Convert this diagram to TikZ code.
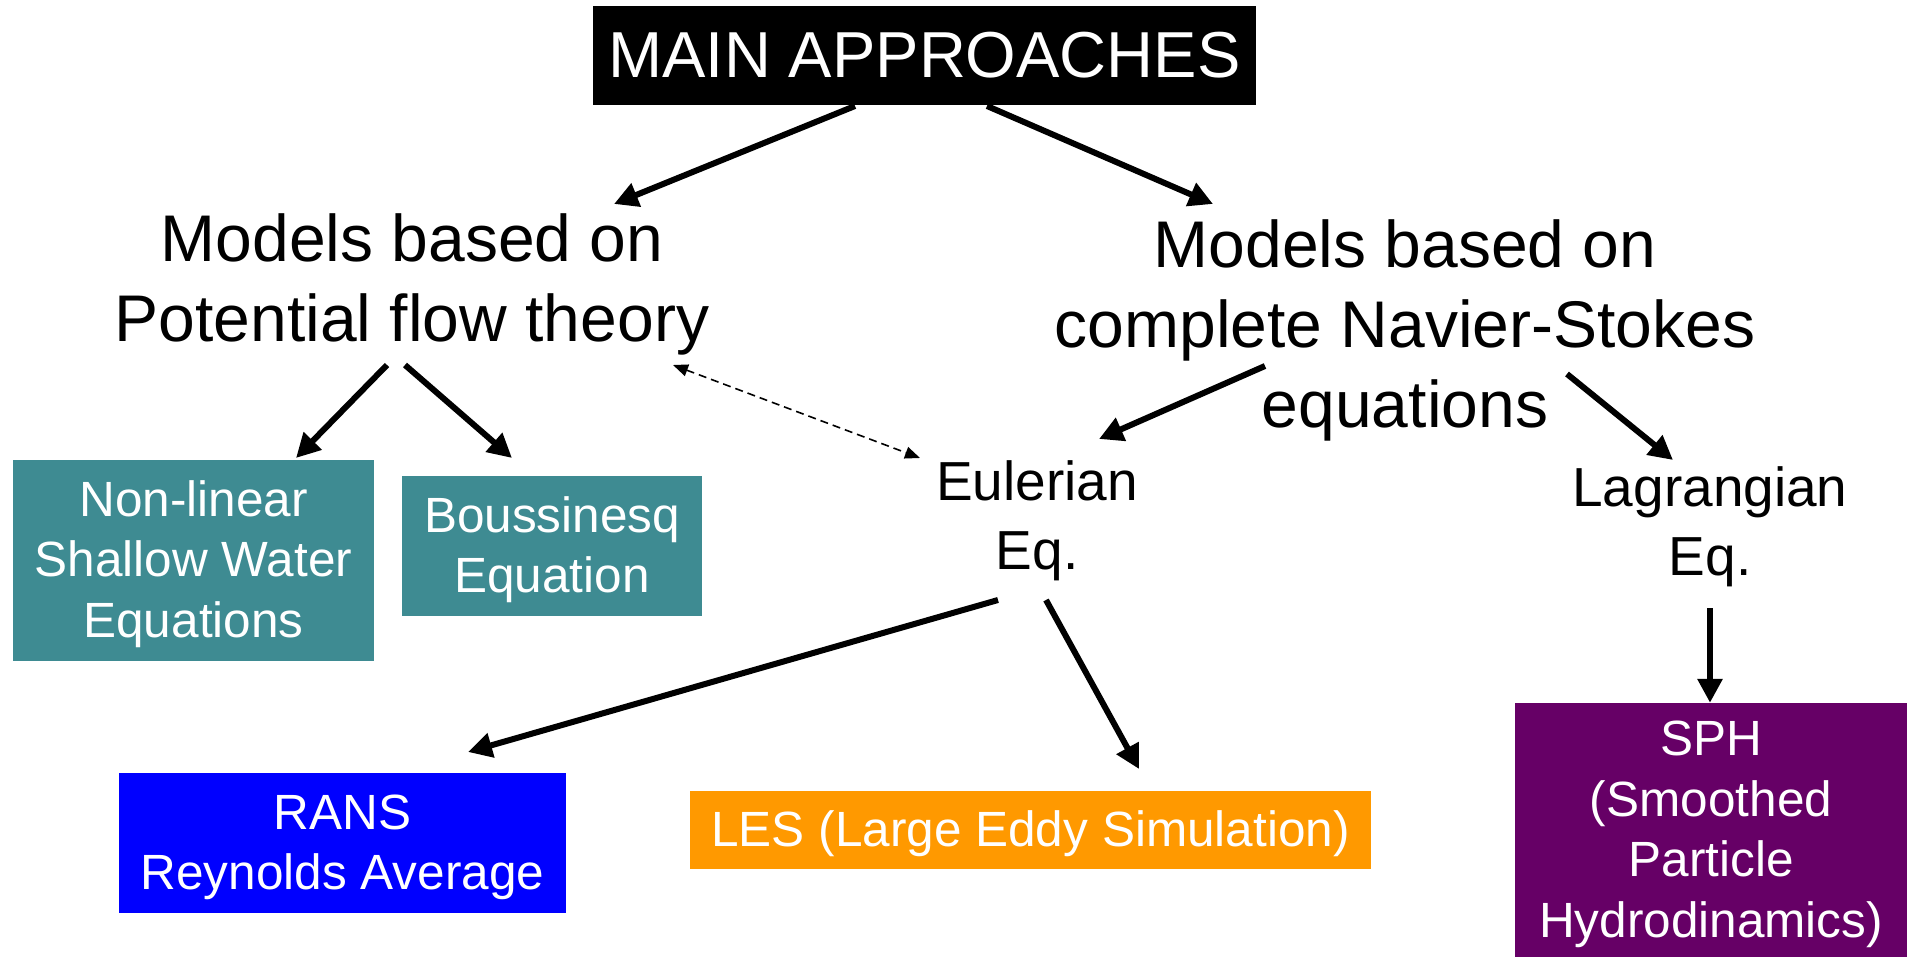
\documentclass[tikz,border=0pt]{standalone}
\usepackage{fontspec}
\setmainfont{Liberation Sans}
\usetikzlibrary{arrows.meta,calc}
\definecolor{tealbox}{HTML}{3E8B92}
\definecolor{bluebox}{HTML}{0000FF}
\definecolor{orangebox}{HTML}{FF9900}
\definecolor{purplebox}{HTML}{660066}
\newcommand\myTopGap{\rule{0pt}{43pt}}
\begin{document}
\begin{tikzpicture}[x=1pt,y=-1pt,
  arr/.style={line width=6pt,-{Triangle[length=24pt,width=24pt]}},
  darr/.style={line width=1.6pt,dash pattern=on 8pt off 5pt,{Triangle[length=15pt,width=12pt]}-{Triangle[length=15pt,width=12pt]}},
  headtext/.style={font=\fontsize{66}{80}\selectfont,align=center,inner sep=0pt},
  subtext/.style={font=\fontsize{55}{69}\selectfont,align=center,inner sep=0pt},
  colbox/.style={fill=#1,text=white,font=\fontsize{49.5}{60.5}\selectfont,align=center,inner sep=0pt}
]
\useasboundingbox (0,0) rectangle (1908,957);
\fill[white] (0,0) rectangle (1908,957);

\node[fill=black,text=white,font=\fontsize{65}{78}\selectfont,inner sep=0pt,
      minimum width=663pt,minimum height=99pt] (main) at (924.5,55.5) {MAIN APPROACHES};

\node[headtext] (pot) at (412,284) {Models based on\\Potential flow theory};
\node[headtext] (ns) at (1405,330) {Models based on\\complete Navier-Stokes\\equations};

\node[subtext] (eul) at (1037,521) {Eulerian\\Eq.};
\node[subtext] (lag) at (1710,527) {Lagrangian\\Eq.};

\node[colbox=tealbox,minimum width=361pt,minimum height=201pt] (nlsw) at (193.5,560.5) {\myTopGap Non-linear\\Shallow Water\\Equations};
\node[colbox=tealbox,minimum width=300pt,minimum height=140pt] (bous) at (552,546) {\myTopGap Boussinesq\\Equation};
\node[colbox=bluebox,minimum width=447pt,minimum height=140pt] (rans) at (342.5,843) {\myTopGap RANS\\Reynolds Average};
\node[colbox=orangebox,minimum width=681pt,minimum height=78pt] (les) at (1030.5,830) {\myTopGap LES (Large Eddy Simulation)};
\node[colbox=purplebox,minimum width=392pt,minimum height=254pt] (sph) at (1711,830) {\myTopGap SPH\\(Smoothed\\Particle\\Hydrodinamics)};

\draw[arr] ($(main.center)+(-69.5,50.5)$) -- ($(pot.center)+(202,-80)$);
\draw[arr] ($(main.center)+(62.5,50.5)$) -- ($(ns.center)+(-192,-126)$);
\draw[arr] ($(pot.center)+(-25,81)$) -- ($(nlsw.center)+(102.5,-102.5)$);
\draw[arr] ($(pot.center)+(-7,81)$) -- ($(bous.center)+(-40,-88)$);
\draw[darr] ($(pot.center)+(261,81)$) -- ($(eul.center)+(-117,-63)$);
\draw[arr] ($(ns.center)+(-140,36)$) -- ($(eul.center)+(62,-82)$);
\draw[arr] ($(ns.center)+(162,44)$) -- ($(lag.center)+(-37,-67)$);
\draw[arr] ($(eul.center)+(-39,79)$) -- ($(rans.center)+(125.5,-91)$);
\draw[arr] ($(eul.center)+(9,79)$) -- ($(les.center)+(108.5,-61)$);
\draw[arr] ($(lag.center)+(0,81)$) -- (lag.center |- sph.north);
\end{tikzpicture}
\end{document}
